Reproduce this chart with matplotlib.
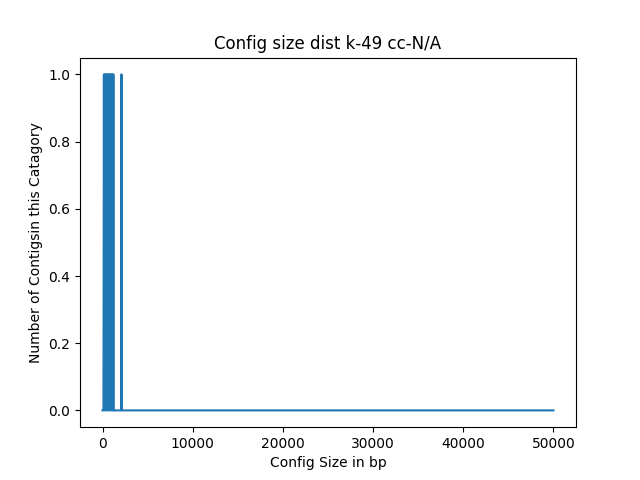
import numpy as np
import matplotlib
matplotlib.use("Agg")
import matplotlib.pyplot as plt

# contig size bins (bp) and number of contigs falling in each bin
bin_size = 50
sizes = np.arange(0, 50001, bin_size)
hit_sizes = [150, 250, 300, 400, 450, 550, 600, 700, 750, 850,
             950, 1000, 1100, 1200, 2100]
counts = np.zeros(len(sizes))
for s in hit_sizes:
    counts[s // bin_size] = 1

plt.figure(figsize=(6.4, 4.8))
plt.plot(sizes, counts)
plt.xlabel('Config Size in bp')
plt.ylabel('Number of Contigsin this Catagory')
plt.title('Config size dist k-49 cc-N/A')
plt.savefig('out.png', dpi=100)
